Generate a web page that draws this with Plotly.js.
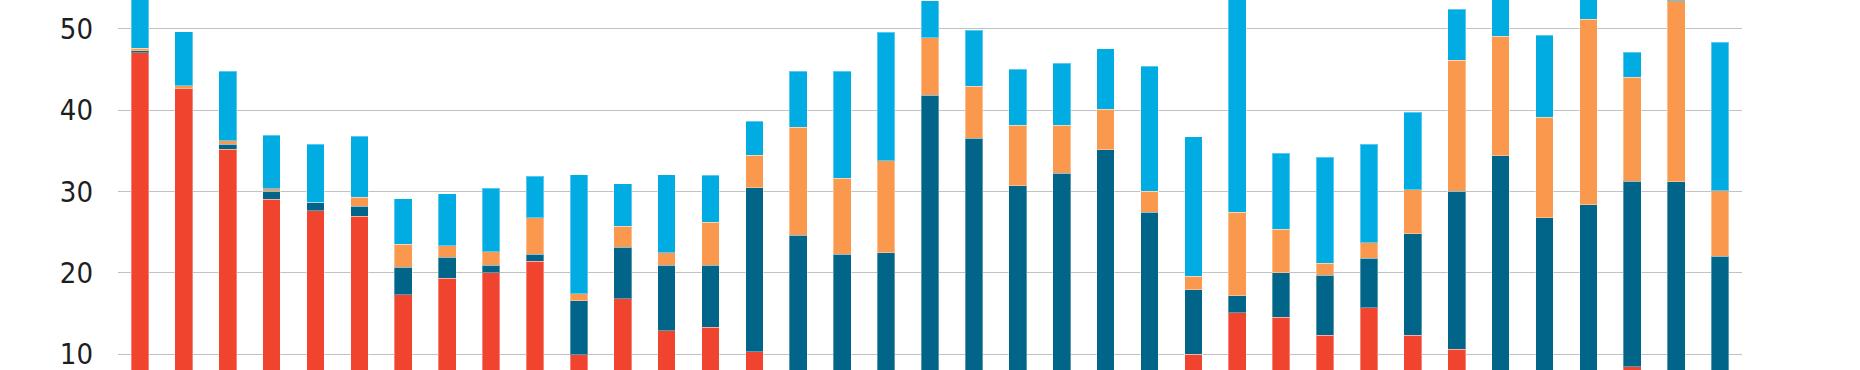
<!DOCTYPE html>
<html>
<head>
<meta charset="utf-8">
<script src="https://cdn.plot.ly/plotly-3.0.1.min.js"></script>
<style>
  html, body { margin: 0; padding: 0; background: #ffffff; }
  #chart { width: 1860px; height: 370px; }
</style>
</head>
<body>
<div id="chart"></div>
<script>
// Categories (no labels visible in the reference crop)
const categories = ["1","2","3","4","5","6","7","8","9","10","11","12","13","14","15","16","17","18","19",
  "20","21","22","23","24","25","26","27","28","29","30","31","32","33","34","35","36","37"];

// Stacked segments, bottom to top
const redValues = [47.05, 42.6, 35.22, 29.08, 27.65, 26.99, 17.29, 19.33, 20.03, 21.42, 9.92, 16.80, 12.91, 13.32, 10.33,
  0, 0, 0, 0, 0, 0, 0, 0, 0, 10.0, 15.12, 14.54, 12.37, 15.73, 12.37, 10.61, 0, 0, 0, 8.49, 0, 0];
const darkBlueValues = [0.25, 0, 0.61, 0.98, 1.06, 1.23, 3.40, 2.58, 0.90, 0.90, 6.63, 6.34, 8.06, 7.61, 20.14,
  24.62, 22.32, 22.49, 41.81, 36.57, 30.72, 32.27, 35.14, 27.44, 7.90, 2.09, 5.45, 7.33, 6.06, 12.45, 19.45,
  34.40, 26.79, 28.38, 22.80, 31.17, 22.04];
const orangeValues = [0.28, 0.4, 0.41, 0.29, 0, 1.10, 2.82, 1.44, 1.68, 4.43, 0.90, 2.58, 1.52, 5.32, 3.97,
  13.30, 9.30, 11.26, 7.08, 6.35, 7.41, 5.86, 4.95, 2.58, 1.68, 10.23, 5.36, 1.48, 1.93, 5.41, 16.09,
  14.66, 12.36, 22.77, 12.77, 22.27, 8.06];
const cyanValues = [8.42, 6.63, 8.52, 6.59, 7.12, 7.46, 5.61, 6.38, 7.82, 5.11, 14.58, 5.24, 9.54, 5.74, 4.18,
  6.84, 13.14, 15.80, 4.55, 6.92, 6.92, 7.61, 7.45, 15.39, 17.15, 28.56, 9.38, 13.06, 12.11, 9.49, 6.27,
  6.94, 10.03, 4.85, 3.07, 0.4, 18.26];

const yTicks = [10, 20, 30, 40, 50];
const yTickText = ["10", "20", "30", "40", "50"];

const colors = { red: "#F0442E", darkBlue: "#006588", orange: "#FA984E", cyan: "#00ACE2" };
const edge = { width: 1, color: "rgba(255,255,255,0.35)" };

function seg(vals, color) {
  return { type: "bar", x: categories, y: vals, marker: { color: color, line: edge }, hoverinfo: "y" };
}

const data = [
  seg(redValues, colors.red),
  seg(darkBlueValues, colors.darkBlue),
  seg(orangeValues, colors.orange),
  seg(cyanValues, colors.cyan)
];

const layout = {
  width: 1860, height: 370,
  barmode: "stack",
  bargap: 0.597,
  showlegend: false,
  paper_bgcolor: "#ffffff",
  plot_bgcolor: "#ffffff",
  margin: { l: 118, r: 118, t: 0, b: 0, pad: 0 },
  xaxis: {
    type: "category",
    range: [-0.5, 36.5],
    showticklabels: false,
    showgrid: false,
    zeroline: false,
    showline: false,
    ticks: ""
  },
  yaxis: {
    range: [8.07, 53.53],
    tickvals: yTicks,
    ticktext: yTickText,
    showgrid: true,
    gridcolor: "#c2c2c2",
    gridwidth: 1,
    zeroline: false,
    showline: false,
    ticks: "",
    ticklabelstandoff: 24,
    ticklabeloverflow: "allow",
    tickfont: { family: "DejaVu Sans Condensed, Liberation Sans Narrow, sans-serif", size: 29, color: "#1e1e1e" }
  }
};

Plotly.newPlot("chart", data, layout, { displayModeBar: false, staticPlot: true });
</script>
</body>
</html>
